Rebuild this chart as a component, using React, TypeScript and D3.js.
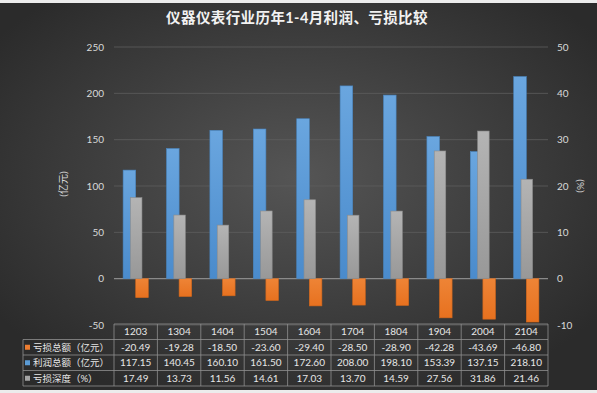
import React from "react";
import * as d3 from "d3";

const categories = ["1203", "1304", "1404", "1504", "1604", "1704", "1804", "1904", "2004", "2104"];
const lossTotal = [-20.49, -19.28, -18.5, -23.6, -29.4, -28.5, -28.9, -42.28, -43.69, -46.8];
const profitTotal = [117.15, 140.45, 160.1, 161.5, 172.6, 208.0, 198.1, 153.39, 137.15, 218.1];
const lossDepth = [17.49, 13.73, 11.56, 14.61, 17.03, 13.7, 14.59, 27.56, 31.86, 21.46];
const leftTicks = [-50, 0, 50, 100, 150, 200, 250];
const rightTicks = [-10, 0, 10, 20, 30, 40, 50];
const seriesNames = ["亏损总额（亿元）", "利润总额（亿元）", "亏损深度（%）"];
const title = "仪器仪表行业历年1-4月利润、亏损比较";

const W = 597;
const H = 393;
const FONT = "Lato, 'Noto Sans CJK SC', sans-serif";

export default function App() {
  const plotL = 114;
  const plotR = 548;
  const yL = d3.scaleLinear().domain([-50, 250]).range([325, 47]);
  const yR = d3.scaleLinear().domain([-10, 50]).range([325, 47]);
  const x = d3.scaleBand<string>().domain(categories).range([plotL, plotR]).paddingInner(0).paddingOuter(0);
  const bw = x.bandwidth();
  const barW = bw * 0.29;
  const grayW = bw * 0.265;
  const tableTop = 324;
  const rowH = 15.5;
  const labelL = 23;
  const colors = ["#ed7d31", "#5b9bd5", "#a5a5a5"];
  const rows = [lossTotal, profitTotal, lossDepth];

  return (
    <div style={{ position: "fixed", left: 0, top: 0 }}>
      <svg width={W} height={H} style={{ display: "block", fontFamily: FONT }}>
        <defs>
          <radialGradient id="bg" cx="0.5" cy="0.45" r="0.62">
            <stop offset="0" stopColor="#555555" />
            <stop offset="1" stopColor="#2b2b2b" />
          </radialGradient>
          <linearGradient id="gBlue" x1="0" y1="0" x2="0" y2="1">
            <stop offset="0" stopColor="#6aa6df" />
            <stop offset="1" stopColor="#4a8bcc" />
          </linearGradient>
          <linearGradient id="gGray" x1="0" y1="0" x2="0" y2="1">
            <stop offset="0" stopColor="#b4b4b4" />
            <stop offset="1" stopColor="#989898" />
          </linearGradient>
          <linearGradient id="gOrange" x1="0" y1="0" x2="0" y2="1">
            <stop offset="0" stopColor="#ee8436" />
            <stop offset="1" stopColor="#e7711f" />
          </linearGradient>
        </defs>
        <rect x={0} y={0} width={W} height={H} fill="#ececec" />
        <rect x={0} y={3} width={W} height={387} fill="url(#bg)" />
        <text x={297} y={23} textAnchor="middle" fill="#f2f2f2" fontSize={14.5} fontWeight="bold" letterSpacing={0.4}>
          {title}
        </text>
        {/* gridlines */}
        {leftTicks.map((t) => (
          <line key={"g" + t} x1={plotL} x2={plotR} y1={yL(t)} y2={yL(t)} stroke={t === 0 ? "#8a8a8a" : "#5e5e5e"} strokeWidth={t === 0 ? 1.2 : 0.8} />
        ))}
        {/* left tick labels */}
        {leftTicks.map((t) => (
          <text key={"l" + t} x={104} y={yL(t) + 3.5} textAnchor="end" fill="#d9d9d9" fontSize={10}>
            {t}
          </text>
        ))}
        {rightTicks.map((t) => (
          <text key={"r" + t} x={557} y={yR(t) + 3.5} textAnchor="start" fill="#d9d9d9" fontSize={10}>
            {t}
          </text>
        ))}
        <text transform={`translate(63,184) rotate(-90)`} textAnchor="middle" dominantBaseline="central" fill="#d9d9d9" fontSize={10}>
          (亿元)
        </text>
        <text transform={`translate(581,186) rotate(90)`} textAnchor="middle" dominantBaseline="central" fill="#d9d9d9" fontSize={10}>
          (%)
        </text>
        {/* bars */}
        {categories.map((c, i) => {
          const cx = (x(c) as number) + bw / 2;
          return (
            <g key={c}>
              <rect x={cx - barW} y={yL(profitTotal[i])} width={barW} height={yL(0) - yL(profitTotal[i])} fill="url(#gBlue)" stroke="#4a86c0" strokeWidth={0.6} />
              <rect x={cx} y={yL(0)} width={barW} height={yL(lossTotal[i]) - yL(0)} fill="url(#gOrange)" stroke="#d0661c" strokeWidth={0.6} />
              <rect x={cx + 0.5 - grayW / 2} y={yR(lossDepth[i])} width={grayW} height={yR(0) - yR(lossDepth[i])} fill="url(#gGray)" stroke="#8c8c8c" strokeWidth={0.6} />
            </g>
          );
        })}
        {/* table */}
        <g stroke="#8f8f8f" strokeWidth={0.8} fill="none">
          <line x1={plotL} x2={plotR} y1={tableTop} y2={tableTop} />
          {[1, 2, 3, 4].map((r) => (
            <line key={"h" + r} x1={labelL} x2={plotR} y1={tableTop + r * rowH} y2={tableTop + r * rowH} />
          ))}
          <line x1={labelL} x2={labelL} y1={tableTop + rowH} y2={tableTop + 4 * rowH} />
          {categories.map((c) => (
            <line key={"v" + c} x1={x(c)} x2={x(c)} y1={tableTop} y2={tableTop + 4 * rowH} />
          ))}
          <line x1={plotR} x2={plotR} y1={tableTop} y2={tableTop + 4 * rowH} />
        </g>
        {categories.map((c) => (
          <text key={"t" + c} x={(x(c) as number) + bw / 2} y={tableTop + rowH / 2 + 3.5} textAnchor="middle" fill="#e6e6e6" fontSize={10}>
            {c}
          </text>
        ))}
        {rows.map((vals, r) => (
          <g key={"row" + r}>
            <rect x={25} y={tableTop + (r + 1) * rowH + rowH / 2 - 2.5} width={5} height={5} fill={colors[r]} />
            <text x={33} y={tableTop + (r + 1) * rowH + rowH / 2 + 3.5} fill="#e6e6e6" fontSize={9.5}>
              {seriesNames[r]}
            </text>
            {vals.map((v, i) => (
              <text key={i} x={(x(categories[i]) as number) + bw / 2} y={tableTop + (r + 1) * rowH + rowH / 2 + 3.5} textAnchor="middle" fill="#e6e6e6" fontSize={10}>
                {v.toFixed(2)}
              </text>
            ))}
          </g>
        ))}
      </svg>
    </div>
  );
}
